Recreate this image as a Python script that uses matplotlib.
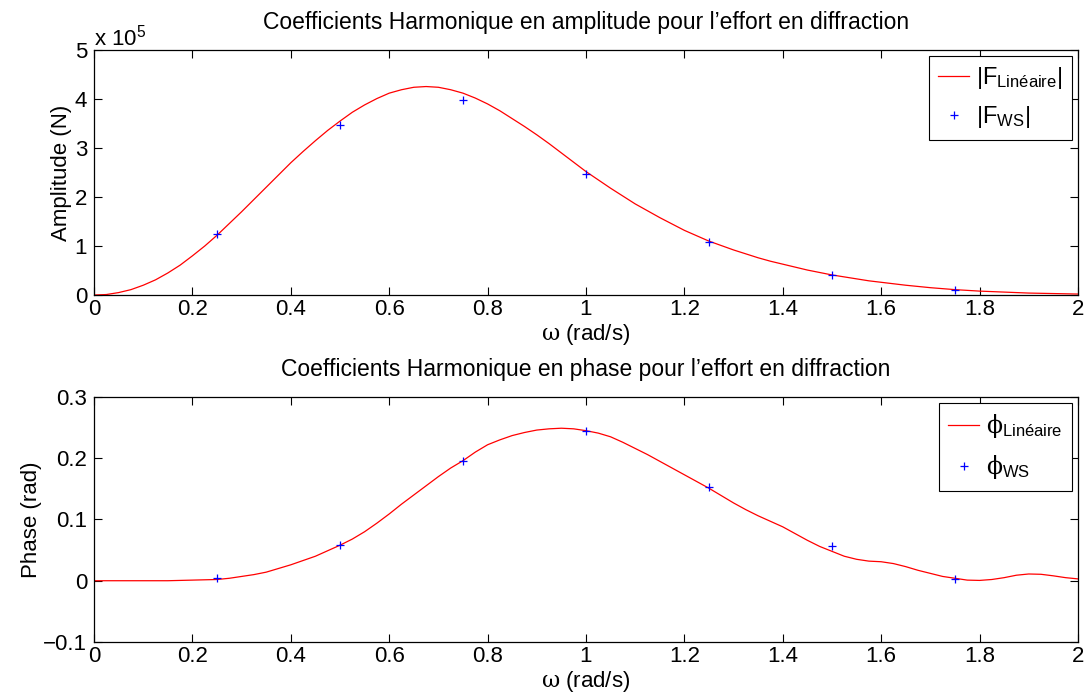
import numpy as np
import matplotlib
matplotlib.use("Agg")
import matplotlib.pyplot as plt

plt.rcParams['font.family'] = ['Liberation Sans', 'DejaVu Sans']
plt.rcParams['mathtext.fontset'] = 'custom'
plt.rcParams['mathtext.rm'] = 'Liberation Sans'
plt.rcParams['mathtext.it'] = 'Liberation Sans:italic'
plt.rcParams['mathtext.sf'] = 'DejaVu Serif'

# pulsation grid of the linear solution (rad/s), step 0.025
omega_lin = np.linspace(0.0, 2.0, 81)
# |F_lineaire| in 1e5 N
amp_lin = [0.0, 0.01, 0.05, 0.11, 0.2, 0.31, 0.45, 0.61, 0.8, 1.0,
           1.22, 1.46, 1.7, 1.95, 2.2, 2.45, 2.7, 2.93, 3.15, 3.36,
           3.55, 3.73, 3.88, 4.01, 4.12, 4.19, 4.24, 4.255, 4.24, 4.19,
           4.12, 4.02, 3.9, 3.76, 3.6, 3.44, 3.27, 3.09, 2.9, 2.71,
           2.52, 2.35, 2.18, 2.02, 1.86, 1.72, 1.58, 1.45, 1.32, 1.21,
           1.1, 1.01, 0.92, 0.84, 0.76, 0.69, 0.63, 0.57, 0.51, 0.46,
           0.41, 0.37, 0.33, 0.29, 0.26, 0.23, 0.2, 0.175, 0.15, 0.13,
           0.11, 0.095, 0.08, 0.07, 0.06, 0.05, 0.04, 0.035, 0.03, 0.025, 0.02]
# phase lineaire (rad)
phase_lin = [0.0, 0.0, 0.0, 0.0, 0.0, 0.0, 0.0, 0.0005, 0.001, 0.0015,
             0.002, 0.004, 0.007, 0.010, 0.014, 0.020, 0.026, 0.033, 0.040, 0.049,
             0.058, 0.068, 0.080, 0.094, 0.109, 0.125, 0.140, 0.155, 0.170, 0.184,
             0.196, 0.210, 0.222, 0.230, 0.237, 0.242, 0.246, 0.248, 0.249, 0.248,
             0.245, 0.241, 0.235, 0.226, 0.216, 0.206, 0.195, 0.184, 0.173, 0.162,
             0.151, 0.139, 0.127, 0.116, 0.106, 0.097, 0.088, 0.077, 0.066, 0.056,
             0.048, 0.040, 0.035, 0.032, 0.031, 0.028, 0.023, 0.017, 0.012, 0.007,
             0.004, 0.001, 0.0005, 0.002, 0.005, 0.009, 0.011, 0.0105, 0.008, 0.005, 0.003]

# resultats WS
omega_ws = [0.25, 0.5, 0.75, 1.0, 1.25, 1.5, 1.75]
amp_ws = [1.25, 3.48, 3.98, 2.47, 1.09, 0.4, 0.1]
phase_ws = [0.005, 0.059, 0.196, 0.244, 0.153, 0.057, 0.003]

x_ticks = [0, 0.2, 0.4, 0.6, 0.8, 1.0, 1.2, 1.4, 1.6, 1.8, 2.0]
x_ticklabels = ['0', '0.2', '0.4', '0.6', '0.8', '1', '1.2', '1.4', '1.6', '1.8', '2']

fig = plt.figure(figsize=(10.91, 6.95), dpi=100)
ax1 = fig.add_axes([0.0862, 0.5755, 0.9018, 0.3525])
ax2 = fig.add_axes([0.0862, 0.0763, 0.9018, 0.3525])

FS = 16

ax1.plot(omega_lin, amp_lin, color='red', lw=0.9, label=r'|F$_{\mathrm{Linéaire}}$|')
ax1.plot(omega_ws, amp_ws, '+', color='blue', ms=6, mew=0.9, label=r'|F$_{\mathrm{WS}}$|')
ax1.set_xlim(0, 2)
ax1.set_ylim(0, 5)
ax1.set_yticks([0, 1, 2, 3, 4, 5])
ax1.set_ylabel('Amplitude (N)', fontsize=FS, labelpad=2)
ax1.set_title('Coefficients Harmonique en amplitude pour l’effort en diffraction',
              fontsize=16.5, pad=15)
ax1.text(0.0, 1.0, r'x 10$^5$', transform=ax1.transAxes, fontsize=FS,
         ha='left', va='bottom')
leg1 = ax1.legend(loc='upper right', fontsize=17, handlelength=1.3, handletextpad=0.3,
                  borderaxespad=0.25, borderpad=0.4, fancybox=False, framealpha=1,
                  edgecolor='black', labelspacing=0.55)

ax2.plot(omega_lin, phase_lin, color='red', lw=0.9, label=r'$\mathsf{\phi}_{\mathrm{Linéaire}}$')
ax2.plot(omega_ws, phase_ws, '+', color='blue', ms=6, mew=0.9, label=r'$\mathsf{\phi}_{\mathrm{WS}}$')
ax2.set_xlim(0, 2)
ax2.set_ylim(-0.1, 0.3)
ax2.set_yticks([-0.1, 0, 0.1, 0.2, 0.3])
ax2.set_yticklabels(['\u22120.1', '0', '0.1', '0.2', '0.3'])
ax2.set_ylabel('Phase (rad)', fontsize=FS, labelpad=1)
ax2.set_title('Coefficients Harmonique en phase pour l’effort en diffraction',
              fontsize=16.5, pad=15)
leg2 = ax2.legend(loc='upper right', fontsize=17, handlelength=1.3, handletextpad=0.3,
                  borderaxespad=0.25, borderpad=0.4, fancybox=False, framealpha=1,
                  edgecolor='black', labelspacing=0.55)

for ax, leg in ((ax1, leg1), (ax2, leg2)):
    ax.set_xticks(x_ticks)
    ax.set_xticklabels(x_ticklabels)
    ax.set_xlabel(r'$\mathsf{\omega}$ (rad/s)', fontsize=FS, labelpad=1)
    ax.tick_params(direction='in', top=True, right=True, length=6, width=0.8,
                   labelsize=FS)
    ax.tick_params(axis='x', pad=3)
    ax.tick_params(axis='y', pad=5)
    for s in ax.spines.values():
        s.set_linewidth(0.9)
    leg.get_frame().set_linewidth(0.8)

fig.savefig('out.png', dpi=100)
